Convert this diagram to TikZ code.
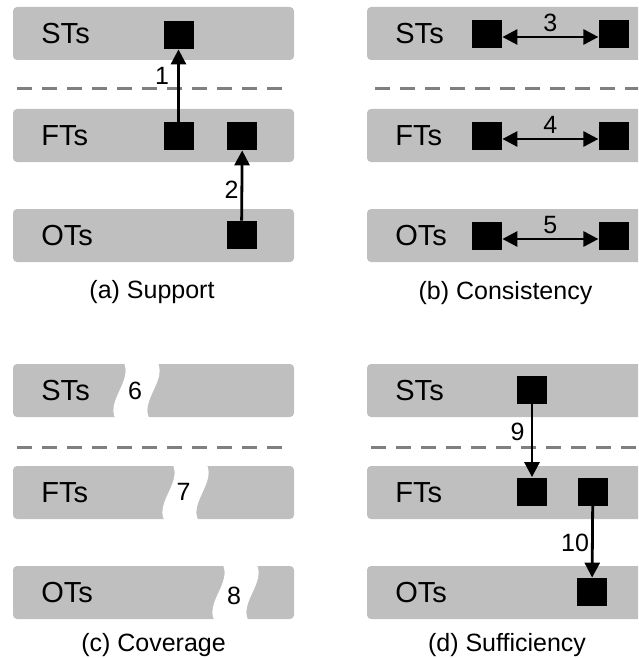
\documentclass[tikz,border=0pt]{standalone}
\usepackage{fontspec}
\setmainfont{Liberation Sans}
\usepackage{tikz}
\usetikzlibrary{arrows.meta}
\usetikzlibrary{positioning}
\definecolor{barGray}{RGB}{191,191,191}
\definecolor{lineGray}{RGB}{127,127,127}
\newcommand{\band}[5]{\fill[band] (#1,#2) rectangle ++(#3,53);
  \node[lbl] (#4) at (#1+28,#2+26.5) {#5}}
\newcommand{\sep}[3]{\draw[sepline] (#1,#3) -- (#2,#3)}
\newcommand{\gap}[2]{\fill[white] (#1+9,#2-1) .. controls (#1+17,#2+17) and (#1-8,#2+36) .. (#1,#2+54)
  -- (#1+34,#2+54) .. controls (#1+26,#2+36) and (#1+51,#2+17) .. (#1+43,#2-1) -- cycle}

\begin{document}
\begin{tikzpicture}[x=0.5pt,y=-0.5pt,>={Triangle[width=7.5pt,length=7.5pt]},
    band/.style={fill=barGray,rounded corners=2pt},
    lbl/.style={anchor=west,inner sep=0pt,font=\fontsize{14.5}{17}\selectfont},
    sq/.style={fill=black,inner sep=0pt,minimum width=15pt,minimum height=14pt},
    sepline/.style={draw=lineGray,line width=1.5pt,dash pattern=on 7.5pt off 5pt},
    arr/.style={line width=1.4pt},
    num/.style={inner sep=0pt,font=\fontsize{12.5}{15}\selectfont},
    capt/.style={anchor=base,inner sep=0pt,font=\fontsize{12.5}{15}\selectfont}]
    \useasboundingbox (0,0) rectangle (638,658);
    \clip (0,0) rectangle (638,658);
    % (a) support
    \band{13}{7}{281}{aST}{STs};
    \band{13}{109}{281}{aFT}{FTs};
    \band{13}{209}{281}{aOT}{OTs};
    \sep{17}{290}{89};
    \node[sq] (aS1) at (178.5,35) {};
    \node[sq] (aF1) at (178.5,136) {};
    \node[sq,right=16.5pt of aF1] (aF2) {};
    \node[sq] (aO1) at (241.5,235) {};
    \draw[arr,->] (aF1) -- node[num,pos=0.63,left=4pt]{1} (aS1);
    \draw[arr,->] (aO1) -- node[num,pos=0.44,left=1pt]{2} (aF2);
    \node[capt] (aCap) at (152,298) {(a) Support};
    % (b) consistency
    \band{367}{7}{300}{bST}{STs};
    \band{367}{109}{300}{bFT}{FTs};
    \band{367}{209}{300}{bOT}{OTs};
    \sep{375}{660}{89};
    \node[sq] (bS1) at (487,34) {};
    \node[sq,right=48pt of bS1] (bS2) {};
    \node[sq] (bF1) at (487,136) {};
    \node[sq,right=48pt of bF1] (bF2) {};
    \node[sq] (bO1) at (487,236) {};
    \node[sq,right=48pt of bO1] (bO2) {};
    \draw[arr,<->] ([yshift=-1.5pt]bS1.east) -- node[num,above=2pt]{3} ([yshift=-1.5pt]bS2.west);
    \draw[arr,<->] ([yshift=-1.5pt]bF1.east) -- node[num,above=2pt]{4} ([yshift=-1.5pt]bF2.west);
    \draw[arr,<->] ([yshift=-1.5pt]bO1.east) -- node[num,above=2pt]{5} ([yshift=-1.5pt]bO2.west);
    \node[capt] (bCap) at (505.5,299) {(b) Consistency};
    % (c) coverage
    \band{13}{364}{281}{cST}{STs};
    \band{13}{466}{281}{cFT}{FTs};
    \band{13}{566}{281}{cOT}{OTs};
    \sep{17}{290}{447};
    \gap{115}{364};
    \gap{164}{466};
    \gap{214}{566};
    \node[num] (c6) at (135,390.5) {6};
    \node[num] (c7) at (183.5,492) {7};
    \node[num] (c8) at (234,596) {8};
    \node[capt] (cCap) at (153.5,651) {(c) Coverage};
    % (d) sufficiency
    \band{367}{364}{300}{dST}{STs};
    \band{367}{466}{300}{dFT}{FTs};
    \band{367}{566}{300}{dOT}{OTs};
    \sep{371}{660}{447};
    \node[sq] (dS1) at (532,389.5) {};
    \node[sq] (dF1) at (532,491.5) {};
    \node[sq,right=15pt of dF1] (dF2) {};
    \node[sq] (dO1) at (592,592) {};
    \draw[arr,->] (dS1) -- node[num,pos=0.38,left=3pt]{9} (dF1);
    \draw[arr,->] (dF2) -- node[num,pos=0.51,left=1pt]{10} (dO1);
    \node[capt] (dCap) at (507,651) {(d) Sufficiency};
\end{tikzpicture}
\end{document}
